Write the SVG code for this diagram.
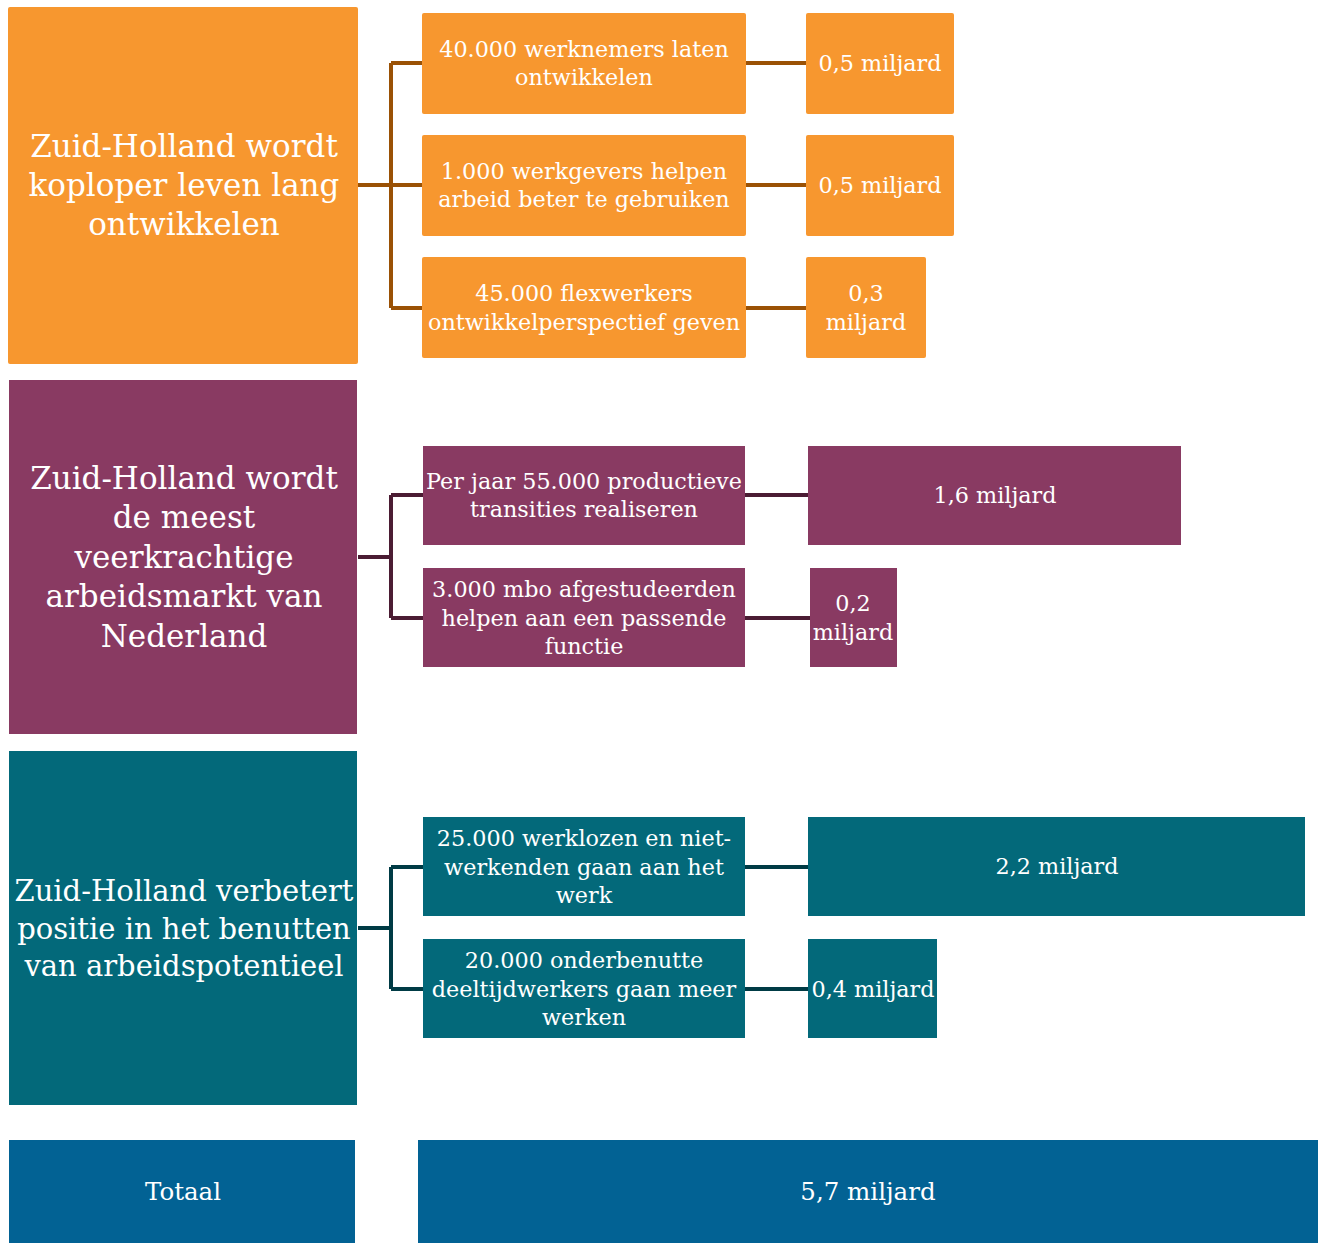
<svg xmlns="http://www.w3.org/2000/svg" width="1320" height="1243" viewBox="0 0 1320 1243">
<style>
.o{fill:#F7972F}.p{fill:#893A62}.t{fill:#03697A}.b{fill:#026294}
text{font-family:"DejaVu Serif","Liberation Serif",serif;fill:#fff;text-anchor:middle}
.big{font-size:31px}.big2{font-size:29px}.sm{font-size:22.3px}.tot{font-size:24.5px}
.co{stroke:#9A5105}.cp{stroke:#4B1C33}.ct{stroke:#003B45}
#connectors path{fill:none;stroke-width:4}
</style>
<rect width="1320" height="1243" fill="#fff"/>
<g id="connectors">
<path class="co" d="M358 185H391M391 63V308M391 63H422M391 185H422M391 308H422M746 63H806M746 185H806M746 308H806"/>
<path class="cp" d="M358 557H391M391 495V618M391 495H423M391 618H423M745 495H808M745 618H810"/>
<path class="ct" d="M358 928H391M391 867V989M391 867H423M391 989H423M745 867H808M745 989H808"/>
</g>
<g id="n1"><rect class="o" x="8" y="7" width="350" height="357" rx="2"/>
<text class="big"><tspan x="184" y="157">Zuid-Holland wordt</tspan><tspan x="184" y="196">koploper leven lang</tspan><tspan x="184" y="235">ontwikkelen</tspan></text></g>
<g id="n1a"><rect class="o" x="422" y="13" width="324" height="101" rx="2"/>
<text class="sm"><tspan x="584" y="57">40.000 werknemers laten</tspan><tspan x="584" y="85">ontwikkelen</tspan></text></g>
<g id="n1av"><rect class="o" x="806" y="13" width="148" height="101" rx="2"/>
<text class="sm" x="880" y="71">0,5 miljard</text></g>
<g id="n1b"><rect class="o" x="422" y="135" width="324" height="101" rx="2"/>
<text class="sm"><tspan x="584" y="179">1.000 werkgevers helpen</tspan><tspan x="584" y="207">arbeid beter te gebruiken</tspan></text></g>
<g id="n1bv"><rect class="o" x="806" y="135" width="148" height="101" rx="2"/>
<text class="sm" x="880" y="193">0,5 miljard</text></g>
<g id="n1c"><rect class="o" x="422" y="257" width="324" height="101" rx="2"/>
<text class="sm"><tspan x="584" y="301">45.000 flexwerkers</tspan><tspan x="584" y="330">ontwikkelperspectief geven</tspan></text></g>
<g id="n1cv"><rect class="o" x="806" y="257" width="120" height="101" rx="2"/>
<text class="sm"><tspan x="866" y="301">0,3</tspan><tspan x="866" y="330">miljard</tspan></text></g>

<g id="n2"><rect class="p" x="9" y="380" width="348" height="354"/>
<text class="big"><tspan x="184" y="489">Zuid-Holland wordt</tspan><tspan x="184" y="528">de meest</tspan><tspan x="184" y="568">veerkrachtige</tspan><tspan x="184" y="607">arbeidsmarkt van</tspan><tspan x="184" y="647">Nederland</tspan></text></g>
<g id="n2a"><rect class="p" x="423" y="446" width="322" height="99"/>
<text class="sm"><tspan x="584" y="489">Per jaar 55.000 productieve</tspan><tspan x="584" y="517">transities realiseren</tspan></text></g>
<g id="n2av"><rect class="p" x="808" y="446" width="373" height="99"/>
<text class="sm" x="995" y="503">1,6 miljard</text></g>
<g id="n2b"><rect class="p" x="423" y="568" width="322" height="99"/>
<text class="sm"><tspan x="584" y="597">3.000 mbo afgestudeerden</tspan><tspan x="584" y="626">helpen aan een passende</tspan><tspan x="584" y="654">functie</tspan></text></g>
<g id="n2bv"><rect class="p" x="810" y="568" width="87" height="99"/>
<text class="sm"><tspan x="853" y="611">0,2</tspan><tspan x="853" y="640">miljard</tspan></text></g>

<g id="n3"><rect class="t" x="9" y="751" width="348" height="354"/>
<text class="big2"><tspan x="184" y="901">Zuid-Holland verbetert</tspan><tspan x="184" y="939">positie in het benutten</tspan><tspan x="184" y="976">van arbeidspotentieel</tspan></text></g>
<g id="n3a"><rect class="t" x="423" y="817" width="322" height="99"/>
<text class="sm"><tspan x="584" y="846">25.000 werklozen en niet-</tspan><tspan x="584" y="875">werkenden gaan aan het</tspan><tspan x="584" y="903">werk</tspan></text></g>
<g id="n3av"><rect class="t" x="808" y="817" width="497" height="99"/>
<text class="sm" x="1057" y="874">2,2 miljard</text></g>
<g id="n3b"><rect class="t" x="423" y="939" width="322" height="99"/>
<text class="sm"><tspan x="584" y="968">20.000 onderbenutte</tspan><tspan x="584" y="997">deeltijdwerkers gaan meer</tspan><tspan x="584" y="1025">werken</tspan></text></g>
<g id="n3bv"><rect class="t" x="808" y="939" width="129" height="99"/>
<text class="sm" x="873" y="997">0,4 miljard</text></g>

<g id="total"><rect class="b" x="9" y="1140" width="346" height="103"/>
<text class="tot" x="183" y="1200">Totaal</text></g>
<g id="totalv"><rect class="b" x="418" y="1140" width="900" height="103"/>
<text class="tot" x="868" y="1200">5,7 miljard</text></g>
</svg>
